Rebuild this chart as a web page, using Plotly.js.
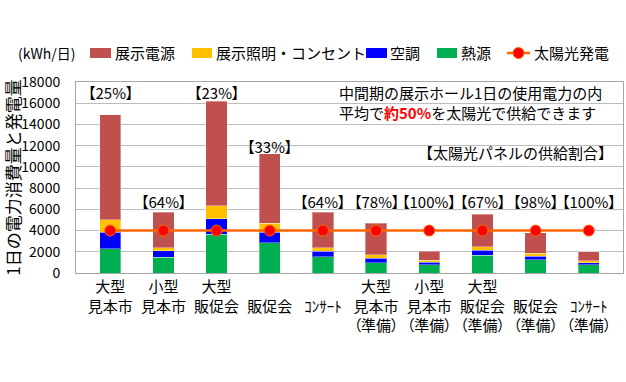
<!DOCTYPE html>
<html>
<head>
<meta charset="utf-8">
<script src="https://cdn.plot.ly/plotly-3.0.1.min.js"></script>
<style>html,body{margin:0;padding:0;background:#fff;}#chart{width:626px;height:382px;}</style>
</head>
<body>
<div id="chart"></div>
<script>
// ---- data ----
var catLine1 = ["大型", "小型", "大型", "", "", "大型", "小型", "大型", "", ""];
var catLine2 = ["見本市", "見本市", "販促会", "販促会", "ｺﾝｻｰﾄ", "見本市", "見本市", "販促会", "販促会", "ｺﾝｻｰﾄ"];
var catLine3 = ["", "", "", "", "", "（準備）", "（準備）", "（準備）", "（準備）", "（準備）"];

var heatSource   = [2300, 1500, 3640, 2850, 1520, 950, 800, 1680, 1270, 760];   // 熱源
var airCon       = [1550, 580, 1480, 1000, 540, 420, 220, 470, 310, 230];       // 空調
var lighting     = [1150, 320, 1230, 830, 340, 350, 170, 320, 260, 150];        // 展示照明・コンセント
var exhibitPower = [9900, 3320, 9850, 6570, 3320, 2960, 860, 3060, 1950, 850];  // 展示電源
var solar        = [4000, 4000, 4000, 4000, 4000, 4000, 4000, 4000, 4000, 4000]; // 太陽光発電
var supplyPct    = [25, 64, 23, 33, 64, 78, 100, 67, 98, 100];

var seriesNames  = ["展示電源", "展示照明・コンセント", "空調", "熱源", "太陽光発電"];

// ---- build ----
var PALT = "<span style=\"font-feature-settings:'palt'\">";
var categories = catLine1.map(function (a, i) {
  var s = (a === "" ? "\u00a0" : a) + "<br>" + catLine2[i];
  if (catLine3[i] !== "") s += "<br>" + catLine3[i];
  return s;
});
var tickText = catLine1.map(function (a, i) {
  var s = (a === "" ? "\u00a0" : a) + "<br>" + catLine2[i];
  if (catLine3[i] !== "") s += "<br>" + PALT + catLine3[i] + "</span>";
  return s;
});

var JP = "Noto Sans CJK JP, Noto Sans, sans-serif";
var C = {red: "#c0504d", yellow: "#ffc000", blue: "#0000ff", green: "#00b050", line: "#ff6600", dot: "#ff0000"};
var pctLabelY = [17000, 6700, 17000, 11900, 6700, 6700, 6700, 6700, 6700, 6700];

// plot area in pixels (for placing the hand-made legend)
var M = {l: 76, r: 3, t: 82, b: 109}, W = 626, H = 382;
var PW = W - M.l - M.r, PH = H - M.t - M.b;
function px(x) { return (x - M.l) / PW; }
function py(y) { return (H - M.b - y) / PH; }

function barTrace(name, vals, color) {
  return {
    type: "bar", name: name, x: categories, y: vals,
    marker: {color: color, line: {color: "rgba(255,255,255,0.35)", width: 1}},
    showlegend: false, hoverinfo: "skip"
  };
}

var traces = [
  barTrace(seriesNames[3], heatSource, C.green),
  barTrace(seriesNames[2], airCon, C.blue),
  barTrace(seriesNames[1], lighting, C.yellow),
  barTrace(seriesNames[0], exhibitPower, C.red),
  {
    type: "scatter", mode: "lines+markers", name: seriesNames[4],
    x: categories, y: solar,
    line: {color: C.line, width: 2.5},
    marker: {color: C.dot, size: 11, line: {color: C.line, width: 1}},
    showlegend: false, hoverinfo: "skip"
  }
];

var annotations = supplyPct.map(function (p, i) {
  return {
    xref: "x", yref: "y", x: categories[i], y: pctLabelY[i],
    text: PALT + "【" + p + "%】</span>", showarrow: false,
    font: {family: JP, size: 15, color: "#000"},
    xanchor: "center", yanchor: "middle"
  };
});
annotations.push({
  xref: "paper", yref: "paper", x: px(337), y: py(103),
  xanchor: "left", yanchor: "middle", align: "left", showarrow: false,
  text: "中間期の展示ホール1日の使用電力の内<br>平均で<b><span style='color:#ff0000'>約50%</span></b>を太陽光で供給できます",
  font: {family: JP, size: 15, color: "#000"}
});
annotations.push({
  xref: "paper", yref: "paper", x: px(615), y: py(152),
  xanchor: "right", yanchor: "middle", showarrow: false,
  text: "【太陽光パネルの供給割合】",
  font: {family: JP, size: 15, color: "#000"}
});
annotations.push({
  xref: "paper", yref: "paper", x: px(16), y: py(53),
  xanchor: "left", yanchor: "middle", showarrow: false,
  text: "(kWh/日)",
  font: {family: JP, size: 14, color: "#000"}
});

// hand-made legend (wide swatches like the original)
var shapes = [];
var legendItems = [
  {name: seriesNames[0], color: C.red, x0: 90, x1: 111, tx: 113},
  {name: seriesNames[1], color: C.yellow, x0: 192, x1: 212, tx: 214},
  {name: seriesNames[2], color: C.blue, x0: 366, x1: 387, tx: 388},
  {name: seriesNames[3], color: C.green, x0: 437, x1: 457, tx: 459}
];
legendItems.forEach(function (it) {
  shapes.push({type: "rect", xref: "paper", yref: "paper",
    x0: px(it.x0), x1: px(it.x1), y0: py(58), y1: py(48),
    fillcolor: it.color, line: {width: 0}});
  annotations.push({xref: "paper", yref: "paper", x: px(it.tx), y: py(53),
    xanchor: "left", yanchor: "middle", showarrow: false, text: it.name,
    font: {family: JP, size: 15, color: "#000"}});
});
shapes.push({type: "line", xref: "paper", yref: "paper",
  x0: px(507), x1: px(530), y0: py(53), y1: py(53),
  line: {color: C.line, width: 2.5}});
shapes.push({type: "circle", xref: "paper", yref: "paper",
  x0: px(513), x1: px(524), y0: py(58.5), y1: py(47.5),
  fillcolor: C.dot, line: {color: C.line, width: 1}});
annotations.push({xref: "paper", yref: "paper", x: px(532), y: py(53),
  xanchor: "left", yanchor: "middle", showarrow: false, text: seriesNames[4],
  font: {family: JP, size: 15, color: "#000"}});

var layout = {
  width: W, height: H,
  margin: M,
  paper_bgcolor: "#fff", plot_bgcolor: "#fff",
  barmode: "stack", bargap: 0.6,
  showlegend: false,
  xaxis: {
    type: "category", tickfont: {family: JP, size: 15, color: "#000"},
    tickangle: 0, tickmode: "array", tickvals: categories, ticktext: tickText,
    showline: true, linecolor: "#a6a6a6", linewidth: 1, mirror: true,
    ticks: "", showgrid: false, fixedrange: true
  },
  yaxis: {
    range: [0, 18000], dtick: 2000, tickformat: "d",
    tickfont: {family: JP, size: 14, color: "#000"},
    showline: true, linecolor: "#a6a6a6", linewidth: 1, mirror: true,
    gridcolor: "#bdbdbd", gridwidth: 1, zeroline: false,
    ticks: "", ticklabelstandoff: 12,
    title: {text: "1日の電力消費量と発電量", font: {family: JP, size: 17, color: "#000"}, standoff: 7},
    fixedrange: true
  },
  shapes: shapes,
  annotations: annotations
};

Plotly.newPlot("chart", traces, layout, {displayModeBar: false, staticPlot: true});
</script>
</body>
</html>
